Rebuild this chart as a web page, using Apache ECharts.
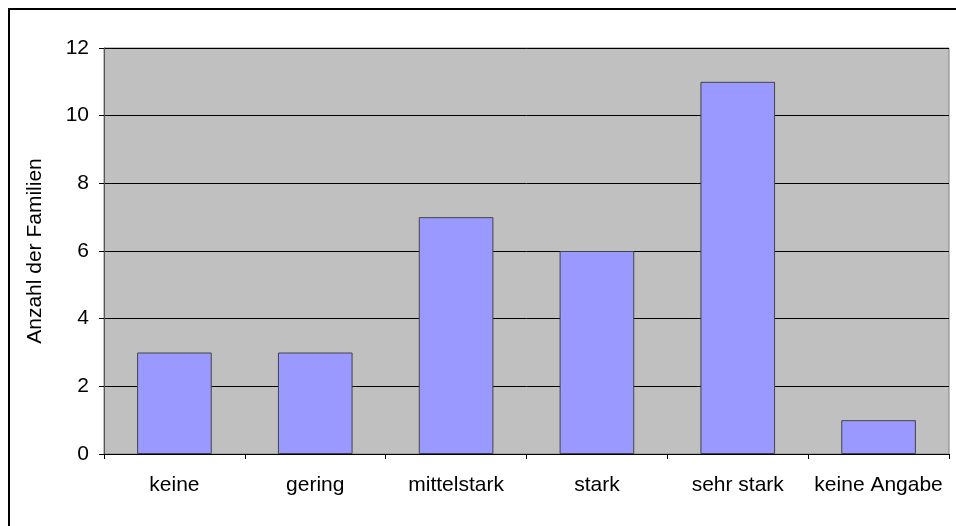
<!DOCTYPE html>
<html>
<head>
<meta charset="utf-8">
<script src="https://cdn.jsdelivr.net/npm/echarts@6/dist/echarts.min.js"></script>
<style>
  html, body { margin: 0; padding: 0; background: #fff; }
  #frame { position: absolute; left: 8px; top: 8px; width: 960px; height: 540px; border: 2px solid #000; box-sizing: border-box; }
  #chart { position: absolute; left: 0; top: 0; width: 956px; height: 526px; }
</style>
</head>
<body>
<div id="frame"></div>
<div id="chart"></div>
<script>
// Categories and counts of families
const categories = ['keine', 'gering', 'mittelstark', 'stark', 'sehr stark', 'keine Angabe'];
const familyCounts = [3, 3, 7, 6, 11, 1];
const yTicks = { min: 0, max: 12, interval: 2 };

const chart = echarts.init(document.getElementById('chart'), null, { renderer: 'canvas' });
const fontFamily = '"Liberation Sans", Arial, sans-serif';

chart.setOption({
  animation: false,
  grid: {
    left: 104, right: 7, top: 48, bottom: 72,
    show: true, backgroundColor: '#C0C0C0', borderColor: '#808080', borderWidth: 1
  },
  xAxis: {
    type: 'category',
    data: categories,
    axisLine: { show: true, lineStyle: { color: '#000', width: 1 } },
    axisTick: { show: true, length: 5, interval: 0, lineStyle: { color: '#000' }, alignWithLabel: false },
    axisLabel: { color: '#000', fontSize: 21, fontFamily, margin: 21, interval: 0, hideOverlap: false },
    splitLine: { show: false }
  },
  yAxis: {
    type: 'value',
    min: yTicks.min, max: yTicks.max, interval: yTicks.interval,
    name: 'Anzahl der Familien',
    nameLocation: 'middle',
    nameGap: 58,
    nameTextStyle: { color: '#000', fontSize: 21, fontFamily },
    axisLine: { show: true, lineStyle: { color: '#555', width: 1 } },
    axisTick: { show: true, length: 5, lineStyle: { color: '#000' } },
    axisLabel: { color: '#000', fontSize: 21, fontFamily, margin: 15 },
    splitLine: { show: true, lineStyle: { color: '#000', width: 1 } }
  },
  series: [{
    type: 'bar',
    data: familyCounts,
    barCategoryGap: '47%',
    itemStyle: { color: '#9999FF', borderColor: '#444', borderWidth: 1 }
  }]
});
</script>
</body>
</html>
